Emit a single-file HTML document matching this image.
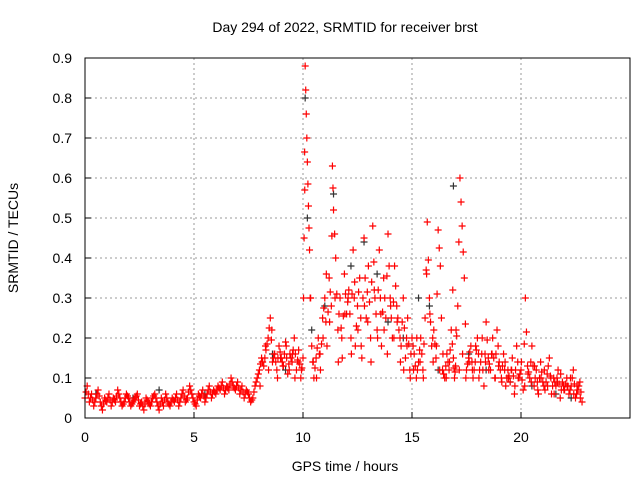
<!DOCTYPE html>
<html><head><meta charset="utf-8"><style>
body{margin:0;background:#fff;}
svg{display:block;font-family:"Liberation Sans",sans-serif;}
</style></head><body>
<svg id="chart" width="640" height="480" viewBox="0 0 640 480">
<rect x="0" y="0" width="640" height="480" fill="#fff"/>
<text x="345" y="32" font-size="14" text-anchor="middle">Day 294 of 2022, SRMTID for receiver brst</text>
<text x="345" y="471" font-size="14" text-anchor="middle">GPS time / hours</text>
<text transform="translate(18,238) rotate(-90)" font-size="14" text-anchor="middle">SRMTID / TECUs</text>
<g id="grid"></g>
<g id="ticks"></g>
<g id="marks"></g>
<rect x="85" y="58" width="545" height="360" fill="none" stroke="#000" stroke-width="1"/>
</svg>
<script>
const xTicks=[0,5,10,15,20];
const yTicks=[0,0.1,0.2,0.3,0.4,0.5,0.6,0.7,0.8,0.9];
const yTickLabels=["0","0.1","0.2","0.3","0.4","0.5","0.6","0.7","0.8","0.9"];
const redT=[0,0.1,0.2,0.3,0.4,0.5,0.6,0.7,0.8,0.9,1,1.1,1.2,1.3,1.4,1.5,1.6,1.7,1.8,1.9,2,2.1,2.2,2.3,2.4,2.5,2.6,2.7,2.8,2.9,3,3.1,3.2,3.3,3.4,3.5,3.6,3.7,3.8,3.9,4,4.1,4.2,4.3,4.4,4.5,4.6,4.7,4.8,4.9,5,5.1,5.2,5.3,5.4,5.5,5.6,5.7,5.8,5.9,6,6.1,6.2,6.3,6.4,6.5,6.6,6.7,6.8,6.9,7,7.1,7.2,7.3,7.4,7.5,7.6,7.7,7.8,7.9,8,8.1,8.2,8.3,8.4,8.5,8.6,8.7,8.8,8.9,9,9.1,9.2,9.3,9.4,9.5,9.6,9.7,9.8,9.9,10,10.05,10.1,10.15,10.2,10.25,10.3,10.4,10.5,10.6,10.7,10.8,10.9,11,11.1,11.2,11.3,11.35,11.4,11.5,11.6,11.7,11.8,11.9,12,12.1,12.2,12.3,12.4,12.5,12.6,12.7,12.8,12.9,13,13.1,13.2,13.3,13.4,13.5,13.6,13.7,13.8,13.9,14,14.1,14.2,14.3,14.4,14.5,14.6,14.7,14.8,14.9,15,15.1,15.2,15.3,15.4,15.5,15.6,15.7,15.8,15.9,16,16.1,16.2,16.3,16.4,16.5,16.6,16.7,16.8,16.9,16.95,17,17.1,17.2,17.3,17.4,17.5,17.6,17.7,17.8,17.9,18,18.1,18.2,18.3,18.4,18.5,18.6,18.7,18.8,18.9,19,19.1,19.2,19.3,19.4,19.5,19.6,19.7,19.8,19.9,20,20.1,20.2,20.3,20.4,20.5,20.6,20.7,20.8,20.9,21,21.1,21.2,21.3,21.4,21.5,21.6,21.7,21.8,21.9,22,22.1,22.2,22.3,22.4,22.5,22.6,22.7,22.8];
const redV=[0.05,0.08,0.04,0.06,0.03,0.05,0.07,0.04,0.02,0.05,0.04,0.06,0.03,0.05,0.04,0.07,0.05,0.03,0.04,0.06,0.05,0.03,0.04,0.05,0.06,0.03,0.04,0.02,0.05,0.04,0.03,0.05,0.06,0.04,0.02,0.05,0.03,0.06,0.04,0.03,0.05,0.04,0.06,0.03,0.05,0.07,0.04,0.05,0.08,0.06,0.04,0.03,0.06,0.05,0.07,0.04,0.06,0.08,0.05,0.07,0.06,0.08,0.07,0.09,0.06,0.08,0.07,0.1,0.08,0.07,0.09,0.06,0.08,0.05,0.07,0.06,0.04,0.05,0.08,0.1,0.12,0.15,0.13,0.17,0.2,0.25,0.14,0.16,0.12,0.18,0.15,0.13,0.19,0.11,0.16,0.14,0.2,0.12,0.17,0.1,0.15,0.45,0.88,0.76,0.64,0.53,0.42,0.18,0.1,0.15,0.2,0.12,0.25,0.3,0.18,0.35,0.28,0.63,0.52,0.4,0.22,0.3,0.15,0.36,0.26,0.32,0.2,0.42,0.18,0.28,0.35,0.15,0.45,0.25,0.38,0.2,0.48,0.3,0.22,0.42,0.18,0.35,0.25,0.46,0.3,0.2,0.38,0.28,0.22,0.18,0.3,0.15,0.25,0.12,0.2,0.16,0.1,0.14,0.2,0.12,0.25,0.49,0.3,0.18,0.22,0.15,0.47,0.38,0.12,0.1,0.16,0.12,0.22,0.15,0.1,0.13,0.28,0.6,0.48,0.35,0.12,0.15,0.18,0.1,0.14,0.2,0.12,0.16,0.08,0.24,0.15,0.12,0.2,0.1,0.22,0.14,0.1,0.16,0.08,0.12,0.09,0.15,0.06,0.18,0.1,0.12,0.07,0.3,0.13,0.1,0.18,0.08,0.12,0.06,0.14,0.09,0.07,0.11,0.15,0.06,0.1,0.08,0.12,0.05,0.09,0.07,0.1,0.06,0.08,0.12,0.05,0.07,0.09,0.04,0.06];
const red2T=[8.03,8.13,8.28,8.42,8.57,8.68,8.83,8.97,9.08,9.23,9.37,9.52,9.63,9.78,9.93,10.08,10.33,10.47,10.62,10.78,10.92,11.07,11.22,11.47,11.62,11.78,11.92,12.07,12.22,12.37,12.52,12.67,12.82,12.97,13.12,13.27,13.42,13.57,13.72,13.87,14.02,14.17,14.32,14.47,14.62,14.77,14.92,15.07,15.22,15.37,15.52,15.67,15.82,15.97,16.12,16.27,16.42,16.57,16.72,16.87,17.02,17.17,17.32,17.47,17.62,17.77,17.92,18.07,18.22,18.37,18.52,18.67,18.82,18.97,19.12,19.27,19.42,19.57,19.72,19.87,20.02,20.17,20.32,20.47,20.62,20.77,20.92,21.07,21.22,21.37,21.52,21.67,21.82,21.97,22.12,22.27,22.42,22.57,22.72];
const red2V=[0.08,0.14,0.18,0.12,0.22,0.16,0.1,0.15,0.13,0.18,0.12,0.16,0.1,0.14,0.12,0.57,0.3,0.14,0.1,0.16,0.2,0.36,0.24,0.3,0.14,0.2,0.26,0.3,0.16,0.34,0.22,0.18,0.28,0.24,0.14,0.32,0.2,0.26,0.22,0.16,0.28,0.2,0.24,0.14,0.12,0.18,0.1,0.12,0.2,0.14,0.1,0.36,0.26,0.14,0.18,0.12,0.16,0.1,0.14,0.32,0.22,0.12,0.16,0.1,0.14,0.12,0.18,0.1,0.2,0.14,0.12,0.16,0.1,0.13,0.09,0.14,0.1,0.12,0.08,0.1,0.14,0.08,0.11,0.09,0.13,0.07,0.1,0.12,0.08,0.1,0.06,0.09,0.11,0.07,0.08,0.1,0.06,0.08,0.05];
const blackT=[0.5,2.2,3.4,5.5,8.6,9.2,10.1,10.2,10.4,11.0,11.4,12.2,12.8,13.4,13.9,14.6,15.3,15.8,16.2,16.9,17.6,18.4,19.5,20.5,21.6,22.3];
const blackV=[0.06,0.05,0.07,0.06,0.16,0.12,0.8,0.5,0.22,0.28,0.56,0.38,0.44,0.36,0.24,0.2,0.3,0.28,0.12,0.58,0.16,0.12,0.09,0.08,0.06,0.05];
const ns="http://www.w3.org/2000/svg";
const X=v=>85+v*21.8;
const Y=v=>418-v*400;
const grid=document.getElementById('grid'),ticks=document.getElementById('ticks'),marks=document.getElementById('marks');
function mk(tag,attrs,parent){const e=document.createElementNS(ns,tag);for(const k in attrs)e.setAttribute(k,attrs[k]);parent.appendChild(e);return e;}
xTicks.forEach(t=>{
  const x=X(t);
  if(t>0){const g=mk('line',{x1:x,x2:x,y1:58,y2:418,stroke:'#999','stroke-dasharray':'2,3','stroke-width':1},grid);
  
  }
  const l=mk('line',{x1:x,x2:x,y1:418,y2:412,stroke:'#000'},ticks);
  
  
  const tx=mk('text',{x:x,y:442,'font-size':14,'text-anchor':'middle'},ticks);tx.textContent=String(t);
  
  
});
yTicks.forEach((t,i)=>{
  const y=Y(t);
  if(i>0&&i<yTicks.length-1){const g=mk('line',{x1:85,x2:630,y1:y,y2:y,stroke:'#999','stroke-dasharray':'2,3','stroke-width':1},grid);
  
  }
  const l=mk('line',{x1:85,x2:91,y1:y,y2:y,stroke:'#000'},ticks);
  
  
  const tx=mk('text',{x:72,y:y+5,'font-size':14,'text-anchor':'end'},ticks);tx.textContent=yTickLabels[i];
  
  
});
function plus(t,v,c,name){
  const x=X(t),y=Y(v);
  const p=mk('path',{d:`M${x-3.5},${y}H${x+3.5}M${x},${y-3.5}V${y+3.5}`,stroke:c,'stroke-width':1.2,fill:'none'},marks);
  
  
}
blackT.forEach((t,i)=>plus(t,blackV[i],'#333','black-point'));
redT.forEach((t,i)=>{
  plus(t,redV[i],'#f00','red-point');
  if(i+1<redT.length){const mt=(t+redT[i+1])/2, mv=(redV[i]+redV[i+1])/2;plus(mt,mv,'#f00','red-point');}
});
red2T.forEach((t,i)=>plus(t,red2V[i],'#f00','red-point'));
</script>
</body></html>
